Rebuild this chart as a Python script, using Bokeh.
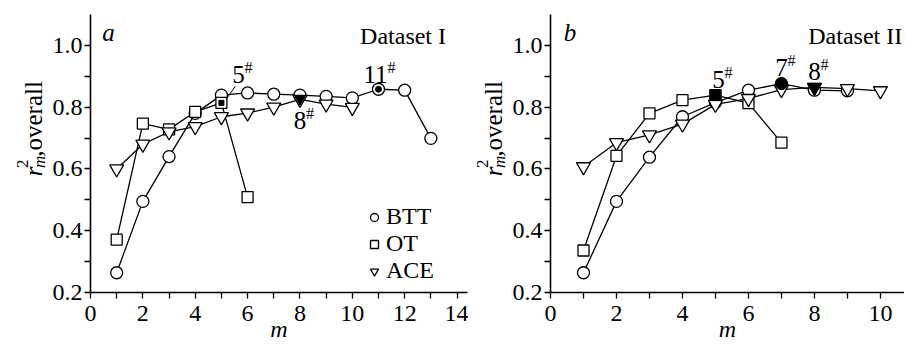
import math
from bokeh.plotting import figure
from bokeh.layouts import row
from bokeh.models import Range1d, FixedTicker, Label, Legend, LegendItem, PrintfTickFormatter
from bokeh.embed import file_html
from bokeh.resources import INLINE

FONT = "Liberation Serif"
H = 344

# ---------------- data: Dataset I ----------------
m_btt_I = [1, 2, 3, 4, 5, 6, 7, 8, 9, 10, 11, 12, 13]
btt_I = [0.264, 0.495, 0.640, 0.780, 0.839, 0.846, 0.842, 0.839, 0.835, 0.830, 0.858, 0.855, 0.699]
m_ot_I = [1, 2, 3, 4, 5, 6]
ot_I = [0.371, 0.747, 0.728, 0.785, 0.814, 0.509]
m_ace_I = [1, 2, 3, 4, 5, 6, 7, 8, 9, 10]
ace_I = [0.600, 0.680, 0.720, 0.737, 0.769, 0.781, 0.800, 0.825, 0.810, 0.799]

# ---------------- data: Dataset II ----------------
m_btt_II = [1, 2, 3, 4, 5, 6, 7, 8, 9]
btt_II = [0.264, 0.495, 0.638, 0.769, 0.815, 0.855, 0.876, 0.855, 0.853]
m_ot_II = [1, 2, 3, 4, 5, 6, 7]
ot_II = [0.336, 0.642, 0.780, 0.823, 0.839, 0.813, 0.685]
m_ace_II = [1, 2, 3, 4, 5, 6, 7, 8, 9, 10]
ace_II = [0.607, 0.685, 0.710, 0.745, 0.809, 0.828, 0.857, 0.864, 0.860, 0.853]

# optimal m per method (marked points)
best_I = {"BTT": 11, "OT": 5, "ACE": 8}
best_II = {"BTT": 7, "OT": 5, "ACE": 8}

y_major = [0.2, 0.4, 0.6, 0.8, 1.0]
y_minor = [0.3, 0.5, 0.7, 0.9]
x_major_I = [0, 2, 4, 6, 8, 10, 12, 14]
x_minor_I = [1, 3, 5, 7, 9, 11, 13]
x_major_II = [0, 2, 4, 6, 8, 10]
x_minor_II = [1, 3, 5, 7, 9]


def style_axes(p, xmaj, xmin):
    p.xaxis.ticker = FixedTicker(ticks=xmaj, minor_ticks=xmin)
    p.yaxis.ticker = FixedTicker(ticks=y_major, minor_ticks=y_minor)
    p.yaxis.formatter = PrintfTickFormatter(format="%.1f")
    for ax in [p.xaxis[0], p.yaxis[0]]:
        ax.axis_line_width = 1.6
        ax.axis_line_color = "black"
        ax.major_tick_line_width = 1.3
        ax.minor_tick_line_width = 1.3
        ax.major_tick_line_color = "black"
        ax.minor_tick_line_color = "black"
        ax.major_tick_in = 0
        ax.major_tick_out = 6
        ax.minor_tick_in = 0
        ax.minor_tick_out = 6
        ax.major_label_text_font = FONT
        ax.major_label_text_font_size = "24px"
        ax.major_label_text_color = "black"
    p.yaxis.major_label_standoff = 2
    p.xaxis.major_label_standoff = 7
    p.xaxis.axis_label = "m"
    p.xaxis.axis_label_text_font = FONT
    p.xaxis.axis_label_text_font_style = "italic"
    p.xaxis.axis_label_text_font_size = "24px"
    p.xaxis.axis_label_text_color = "black"
    p.xaxis.axis_label_standoff = -8
    p.xgrid.visible = False
    p.ygrid.visible = False
    p.outline_line_color = None


def txt(p, x, y, text, size="24px", style="normal", align="center", baseline="middle",
        dx=0, dy=0, angle=0.0):
    p.add_layout(Label(x=x, y=y, text=text, x_offset=dx, y_offset=dy,
                       text_font=FONT, text_font_size=size, text_font_style=style,
                       text_align=align, text_baseline=baseline, text_color="black",
                       angle=angle))


def label_strip(width, bx):
    """Narrow strip left of a panel that carries the rotated y-axis title.
    Its ranges are in pixels (y downward); bx = baseline x of the title."""
    s = figure(width=width, height=H, x_range=Range1d(0, width), y_range=Range1d(H, 0),
               output_backend="svg", toolbar_location=None,
               x_axis_location=None, y_axis_location=None,
               min_border_left=0, min_border_right=0, min_border_top=0, min_border_bottom=0)
    s.outline_line_color = None
    s.grid.visible = False
    a = math.pi / 2
    txt(s, bx, 200, "r", size="25px", style="italic", align="left", baseline="alphabetic", angle=a)
    txt(s, bx + 6, 190, "m", size="17px", style="italic", align="left", baseline="alphabetic", angle=a)
    txt(s, bx - 11, 190, "2", size="17px", align="left", baseline="alphabetic", angle=a)
    txt(s, bx, 176, ",overall", size="25px", align="left", baseline="alphabetic", angle=a)
    return s


def draw_series(p, m_b, b, m_o, o, m_a, a):
    lw = 1.3
    p.line(m_b, b, line_color="black", line_width=lw)
    p.line(m_o, o, line_color="black", line_width=lw)
    p.line(m_a, a, line_color="black", line_width=lw)
    rb = p.scatter(m_b, b, marker="circle", size=12, fill_color="white", line_color="black", line_width=lw)
    ro = p.scatter(m_o, o, marker="square", size=11, fill_color="white", line_color="black", line_width=lw)
    ra = p.scatter(m_a, a, marker="inverted_triangle", size=14, fill_color="white", line_color="black", line_width=lw)
    return rb, ro, ra


def sup_label(p, x, y, num, dx, dy, halfw):
    txt(p, x, y, num, size="25px", dx=dx, dy=dy)
    txt(p, x, y, "#", size="16px", align="left", dx=dx + halfw, dy=dy + 7)


# ---------------- panel a ----------------
lab1 = label_strip(48, 33)
p1 = figure(width=420, height=H, x_range=Range1d(0, 14.4), y_range=Range1d(0.2, 1.1),
            output_backend="svg", toolbar_location=None,
            min_border_left=42, min_border_right=1, min_border_top=14, min_border_bottom=51)
style_axes(p1, x_major_I, x_minor_I)
rb, ro, ra = draw_series(p1, m_btt_I, btt_I, m_ot_I, ot_I, m_ace_I, ace_I)

# marked points of dataset I (dot inside open marker)
kb, ko, ka = best_I["BTT"], best_I["OT"], best_I["ACE"]
p1.scatter([m_btt_I[kb - 1]], [btt_I[kb - 1]], marker="circle", size=6, fill_color="black", line_color="black")
p1.scatter([m_ot_I[ko - 1]], [ot_I[ko - 1]], marker="square", size=5, fill_color="black", line_color="black")
p1.scatter([m_ace_I[ka - 1]], [ace_I[ka - 1]], marker="inverted_triangle", size=10, fill_color="black", line_color="black")

sup_label(p1, m_ot_I[ko - 1], ot_I[ko - 1], "5", 17, 28, 6)
x0 = m_ot_I[ko - 1] + 0.19
y0 = ot_I[ko - 1] + 0.012
p1.segment(x0=[x0], y0=[y0], x1=[x0 + 0.34], y1=[y0 + 0.042], line_color="black", line_width=1)
sup_label(p1, m_btt_I[kb - 1], btt_I[kb - 1], "11", -3, 15, 12)
sup_label(p1, m_ace_I[ka - 1], ace_I[ka - 1], "8", 0, -21, 6)

txt(p1, 0.69, 1.042, "a", size="25px", style="italic")
txt(p1, 13.58, 1.029, "Dataset I", align="right")

legend = Legend(items=[LegendItem(label="BTT", renderers=[rb]),
                       LegendItem(label="OT", renderers=[ro]),
                       LegendItem(label="ACE", renderers=[ra])],
                location=(274, 8), border_line_color=None, background_fill_alpha=0,
                label_text_font=FONT, label_text_font_size="24px", label_text_color="black",
                glyph_width=20, glyph_height=20, spacing=0, padding=4, label_standoff=2, margin=0)
p1.add_layout(legend)

# ---------------- panel b ----------------
lab2 = label_strip(40, 25)
p2 = figure(width=396, height=H, x_range=Range1d(0, 10.73), y_range=Range1d(0.2, 1.1),
            output_backend="svg", toolbar_location=None,
            min_border_left=42, min_border_right=0, min_border_top=14, min_border_bottom=51)
style_axes(p2, x_major_II, x_minor_II)
draw_series(p2, m_btt_II, btt_II, m_ot_II, ot_II, m_ace_II, ace_II)

jb, jo, ja = best_II["BTT"], best_II["OT"], best_II["ACE"]
p2.scatter([m_btt_II[jb - 1]], [btt_II[jb - 1]], marker="circle", size=12, fill_color="black", line_color="black")
p2.scatter([m_ot_II[jo - 1]], [ot_II[jo - 1]], marker="square", size=11, fill_color="black", line_color="black")
p2.scatter([m_ace_II[ja - 1]], [ace_II[ja - 1]], marker="inverted_triangle", size=14, fill_color="black", line_color="black")

sup_label(p2, m_ot_II[jo - 1], ot_II[jo - 1], "5", 3, 16, 6)
sup_label(p2, m_btt_II[jb - 1], btt_II[jb - 1], "7", 0, 16, 6)
sup_label(p2, m_ace_II[ja - 1], ace_II[ja - 1], "8", 0, 16, 6)

txt(p2, 0.59, 1.042, "b", size="25px", style="italic")
txt(p2, 10.66, 1.029, "Dataset II", align="right")

layout = row(lab1, p1, lab2, p2)
open("out.html", "w").write(file_html(layout, INLINE))
